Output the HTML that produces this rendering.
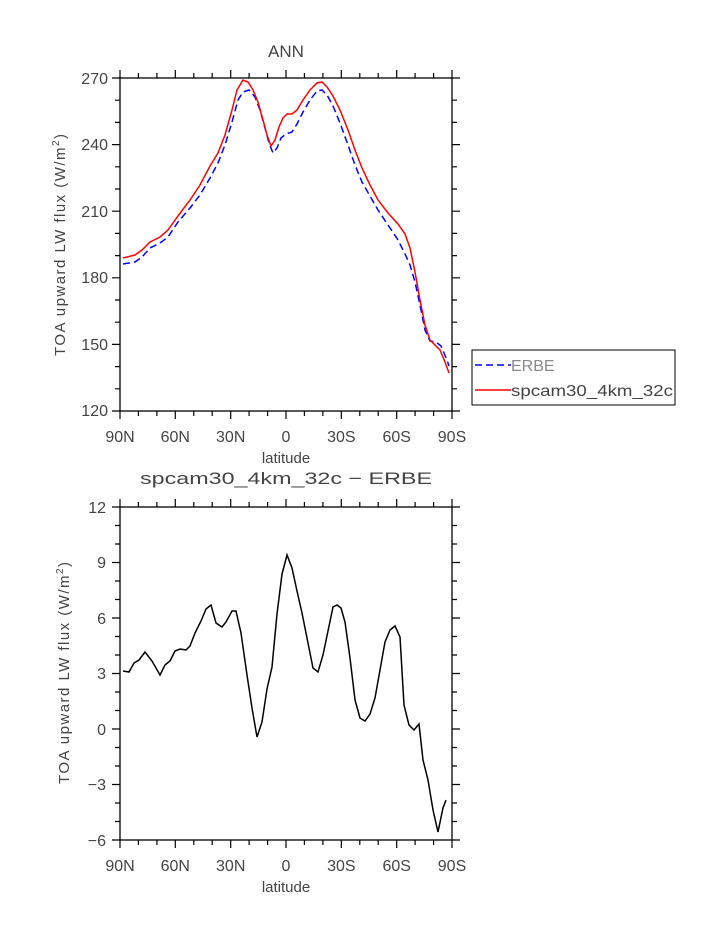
<!DOCTYPE html>
<html><head><style>body{margin:0;background:#fff}</style></head><body>
<svg width="723" height="935" xmlns="http://www.w3.org/2000/svg" font-family="Liberation Sans, sans-serif" fill="#444">
<g stroke="#000" stroke-width="1.3" fill="none">
<rect x="120" y="78" width="332" height="333"/>
<rect x="120" y="507" width="332" height="333"/>
<rect x="472" y="350" width="203" height="55" stroke-width="1"/>
</g>
<g stroke="#000" stroke-width="1.2">
<path d="M120 78v-8M175.3 78v-8M230.7 78v-8M286 78v-8M341.3 78v-8M396.7 78v-8M452 78v-8
M120 411v8M175.3 411v8M230.7 411v8M286 411v8M341.3 411v8M396.7 411v8M452 411v8
M138.4 78v-5M156.9 78v-5M193.8 78v-5M212.2 78v-5M249.1 78v-5M267.6 78v-5M304.4 78v-5M322.9 78v-5M359.8 78v-5M378.2 78v-5M415.1 78v-5M433.6 78v-5
M138.4 411v5M156.9 411v5M193.8 411v5M212.2 411v5M249.1 411v5M267.6 411v5M304.4 411v5M322.9 411v5M359.8 411v5M378.2 411v5M415.1 411v5M433.6 411v5
M120 78h-8M120 144.6h-8M120 211.2h-8M120 277.8h-8M120 344.4h-8M120 411h-8
M452 78h8M452 144.6h8M452 211.2h8M452 277.8h8M452 344.4h8M452 411h8
M120 100.2h-5M120 122.4h-5M120 166.8h-5M120 189h-5M120 233.4h-5M120 255.6h-5M120 300h-5M120 322.2h-5M120 366.6h-5M120 388.8h-5
M452 100.2h5M452 122.4h5M452 166.8h5M452 189h5M452 233.4h5M452 255.6h5M452 300h5M452 322.2h5M452 366.6h5M452 388.8h5"/>
<path d="M120 507v-8M175.3 507v-8M230.7 507v-8M286 507v-8M341.3 507v-8M396.7 507v-8M452 507v-8
M120 840v8M175.3 840v8M230.7 840v8M286 840v8M341.3 840v8M396.7 840v8M452 840v8
M138.4 507v-5M156.9 507v-5M193.8 507v-5M212.2 507v-5M249.1 507v-5M267.6 507v-5M304.4 507v-5M322.9 507v-5M359.8 507v-5M378.2 507v-5M415.1 507v-5M433.6 507v-5
M138.4 840v5M156.9 840v5M193.8 840v5M212.2 840v5M249.1 840v5M267.6 840v5M304.4 840v5M322.9 840v5M359.8 840v5M378.2 840v5M415.1 840v5M433.6 840v5
M120 507h-8M120 562.5h-8M120 618h-8M120 673.5h-8M120 729h-8M120 784.5h-8M120 840h-8
M452 507h8M452 562.5h8M452 618h8M452 673.5h8M452 729h8M452 784.5h8M452 840h8
M120 525.5h-5M120 544h-5M120 581h-5M120 599.5h-5M120 636.5h-5M120 655h-5M120 692h-5M120 710.5h-5M120 747.5h-5M120 766h-5M120 803h-5M120 821.5h-5
M452 525.5h5M452 544h5M452 581h5M452 599.5h5M452 636.5h5M452 655h5M452 692h5M452 710.5h5M452 747.5h5M452 766h5M452 803h5M452 821.5h5"/>
</g>
<polyline fill="none" stroke="#00f" stroke-width="1.5" stroke-dasharray="7,4" points="123,264 135,262 142,257 150,248 160,243 168,237 178,222 190,208 200,195 210,178 218,163 225,145 232,122 238,100 243,92 249,90 255,97 260,110 265,128 269,143 273,153 277,148 281,138 286,134 292,132 297,124 303,112 310,100 317,91 322,90 327,95 333,106 340,123 348,145 355,165 362,182 370,196 378,210 388,225 398,240 405,254 410,265 415,282 420,305 425,330 430,341 436,342 441,346 447,360 449,366"/>
<polyline fill="none" stroke="#f00" stroke-width="1.5" points="123,258 135,255 142,250 150,242 160,237 168,230 178,216 190,200 200,185 210,166 218,153 225,135 232,110 237,90 243,80 248,82 253,90 258,102 263,120 267,135 271,146 275,140 279,127 283,118 287,114 292,114 297,110 303,100 310,90 317,83 322,82 327,87 333,96 340,110 348,130 355,150 362,168 370,185 378,200 388,213 398,224 405,234 410,248 415,272 420,300 425,325 430,340 435,345 440,350 445,362 449,373"/>
<polyline fill="none" stroke="#000" stroke-width="1.5" points="123,671 129,672 134,663 139,660 145,652 152,661 160,675 165,665 170,661 175,651 180,649 186,650 190,646 195,633 201,621 206,609 211,605 216,623 222,627 226,622 232,611 236,611 241,633 247,675 252,708 257,737 262,722 267,689 272,667 277,614 282,574 287,555 292,568 297,591 302,613 308,643 313,668 318,672 323,655 328,631 333,607 337,605 341,608 345,622 350,658 355,700 360,718 365,721 370,714 375,698 380,670 385,642 390,630 395,626 400,637 404,705 409,725 414,730 419,724 423,760 428,780 433,810 438,832 443,808 446,800"/>
<line x1="475" y1="365" x2="511" y2="365" stroke="#00f" stroke-width="1.5" stroke-dasharray="7,4"/>
<line x1="475" y1="390" x2="511" y2="390" stroke="#f00" stroke-width="1.5"/>
<g font-size="16">
<text x="511" y="371" fill="#888">ERBE</text>
<text x="511" y="396" textLength="162" lengthAdjust="spacingAndGlyphs">spcam30_4km_32c</text>
<text x="286" y="57" text-anchor="middle" font-size="17">ANN</text>
<text x="286" y="484" text-anchor="middle" font-size="17" textLength="292" lengthAdjust="spacingAndGlyphs">spcam30_4km_32c − ERBE</text>
<text x="286" y="463" text-anchor="middle" font-size="15">latitude</text>
<text x="286" y="892" text-anchor="middle" font-size="15">latitude</text>
<g text-anchor="middle">
<text x="120" y="442">90N</text><text x="175.3" y="442">60N</text><text x="230.7" y="442">30N</text><text x="286" y="442">0</text><text x="341.3" y="442">30S</text><text x="396.7" y="442">60S</text><text x="452" y="442">90S</text>
<text x="120" y="871">90N</text><text x="175.3" y="871">60N</text><text x="230.7" y="871">30N</text><text x="286" y="871">0</text><text x="341.3" y="871">30S</text><text x="396.7" y="871">60S</text><text x="452" y="871">90S</text>
</g>
<g text-anchor="end">
<text x="108" y="84">270</text><text x="108" y="150">240</text><text x="108" y="217">210</text><text x="108" y="283">180</text><text x="108" y="350">150</text><text x="108" y="416">120</text>
<text x="106" y="513">12</text><text x="106" y="568">9</text><text x="106" y="624">6</text><text x="106" y="679">3</text><text x="106" y="735">0</text><text x="106" y="790">−3</text><text x="106" y="846">−6</text>
</g>
<text transform="translate(65,245) rotate(-90)" text-anchor="middle" font-size="15" textLength="222">TOA upward LW flux (W/m<tspan font-size="10" dy="-6">2</tspan><tspan dy="6">)</tspan></text>
<text transform="translate(69,673) rotate(-90)" text-anchor="middle" font-size="15" textLength="222">TOA upward LW flux (W/m<tspan font-size="10" dy="-6">2</tspan><tspan dy="6">)</tspan></text>
</g>
</svg>
</body></html>
